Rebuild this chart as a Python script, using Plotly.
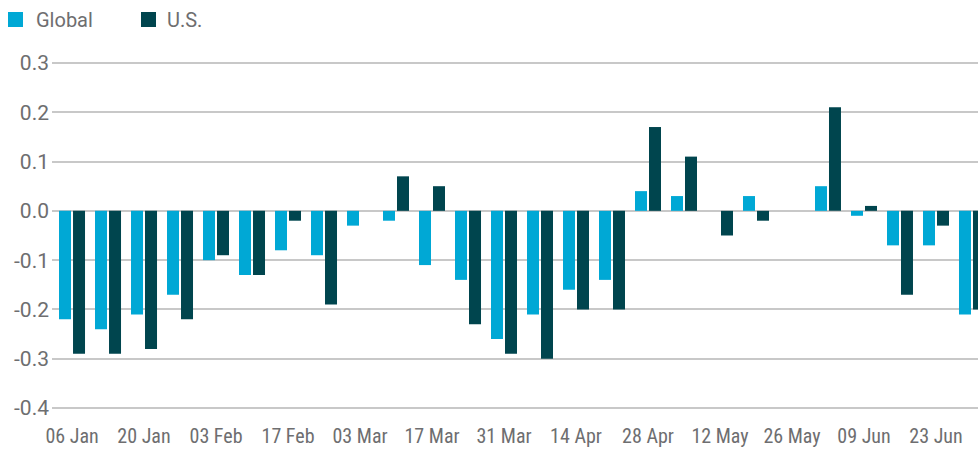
import plotly.graph_objects as go

weeks = ["06 Jan", "13 Jan", "20 Jan", "27 Jan", "03 Feb", "10 Feb", "17 Feb", "24 Feb",
         "03 Mar", "10 Mar", "17 Mar", "24 Mar", "31 Mar", "07 Apr", "14 Apr", "21 Apr",
         "28 Apr", "05 May", "12 May", "19 May", "26 May", "02 Jun", "09 Jun", "16 Jun",
         "23 Jun", "30 Jun"]
global_vals = [-0.22, -0.24, -0.21, -0.17, -0.10, -0.13, -0.08, -0.09,
               -0.03, -0.02, -0.11, -0.14, -0.26, -0.21, -0.16, -0.14,
               0.04, 0.03, 0.0, 0.03, 0.0, 0.05, -0.01, -0.07,
               -0.07, -0.21]
us_vals = [-0.29, -0.29, -0.28, -0.22, -0.09, -0.13, -0.02, -0.19,
           0.0, 0.07, 0.05, -0.23, -0.29, -0.30, -0.20, -0.20,
           0.17, 0.11, -0.05, -0.02, 0.0, 0.21, 0.01, -0.17,
           -0.03, -0.20]
y_ticks = [0.3, 0.2, 0.1, 0.0, -0.1, -0.2, -0.3, -0.4]
series_names = ["Global", "U.S."]

GLOBAL_C = "#00A8D5"
US_C = "#00454E"
TXT = "#6E6E70"
FONT = "Roboto, Liberation Sans, sans-serif"
FONT_X = "Roboto Condensed, Roboto, sans-serif"

x_idx = list(range(len(weeks)))
fig = go.Figure()
fig.add_trace(go.Bar(x=x_idx, y=global_vals, name=series_names[0], marker_color=GLOBAL_C,
                     marker_line_width=0))
fig.add_trace(go.Bar(x=x_idx, y=us_vals, name=series_names[1], marker_color=US_C,
                     marker_line_width=0))

fig.update_layout(
    width=978, height=450,
    margin=dict(l=52, r=0, t=58, b=37, autoexpand=False),
    barmode="group", bargap=0.222, bargroupgap=0.143,
    plot_bgcolor="white", paper_bgcolor="white",
    font=dict(family=FONT, size=21, color=TXT),
    showlegend=False,
)

# manual legend (keys as shapes, labels as text)
key_x = [(-0.04752, -0.03132), (0.0961, 0.1123)]
lab_x = [-0.0195, 0.1215]
for (x0, x1), lx, name, col in zip(key_x, lab_x, series_names, [GLOBAL_C, US_C]):
    fig.add_shape(type="rect", xref="paper", yref="paper", x0=x0, x1=x1,
                  y0=1.0873, y1=1.1296, fillcolor=col, line_width=0)
    fig.add_annotation(xref="paper", yref="paper", x=lx, y=1.107, text=name,
                       showarrow=False, xanchor="left", yanchor="middle",
                       font=dict(family=FONT, size=20, color=TXT))

fig.update_xaxes(
    range=[-0.556, 25.167], automargin=False,
    tickvals=x_idx[::2], ticktext=weeks[::2],
    showgrid=False, zeroline=False, showline=False,
    ticks="", ticklabelstandoff=9,
    tickfont=dict(family=FONT_X, size=20, color=TXT),
)
fig.update_yaxes(
    range=[-0.41, 0.31], automargin=False,
    tickvals=y_ticks, ticktext=[f"{v:.1f}" for v in y_ticks],
    showgrid=True, gridcolor="#C8C8C8", gridwidth=2,
    zeroline=True, zerolinecolor="#C8C8C8", zerolinewidth=2,
    showline=False, ticks="", ticklabelstandoff=2,
    tickfont=dict(family=FONT, size=21, color=TXT),
)
fig.write_html(
    "out.html",
    config={"displayModeBar": False},
    post_script="document.body.style.margin='0';document.body.style.overflow='hidden';",
)
